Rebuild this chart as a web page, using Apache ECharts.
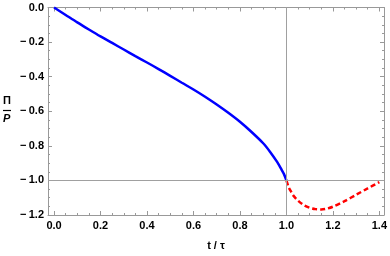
<!DOCTYPE html>
<html>
<head>
<meta charset="utf-8">
<script src="https://cdn.jsdelivr.net/npm/echarts@6/dist/echarts.min.js"></script>
<style>
html,body{margin:0;padding:0;background:#fff;}
#c{width:390px;height:256px;}
</style>
</head>
<body>
<div id="c"></div>
<script>
// ---- data ----
var blueT = [0, 0.05, 0.1, 0.15, 0.2, 0.25, 0.3, 0.35, 0.4, 0.45, 0.5, 0.55, 0.6, 0.65, 0.7, 0.75, 0.8, 0.85, 0.9, 0.93, 0.96, 0.98, 0.99, 1.0];
var blueV = [0, -0.043, -0.086, -0.127, -0.167, -0.205, -0.243, -0.281, -0.318, -0.356, -0.395, -0.435, -0.474, -0.516, -0.561, -0.609, -0.661, -0.72, -0.785, -0.835, -0.893, -0.94, -0.965, -1.0];
var redT = [1.0, 1.01, 1.02, 1.03, 1.05, 1.075, 1.1, 1.125, 1.15, 1.175, 1.2, 1.25, 1.3, 1.35, 1.4];
var redV = [-1.0, -1.04, -1.065, -1.088, -1.117, -1.143, -1.158, -1.166, -1.168, -1.163, -1.152, -1.12, -1.083, -1.046, -1.01];
var xMajor = [0, 0.2, 0.4, 0.6, 0.8, 1.0, 1.2, 1.4];
var xMinor = [0.05, 0.1, 0.15, 0.25, 0.3, 0.35, 0.45, 0.5, 0.55, 0.65, 0.7, 0.75, 0.85, 0.9, 0.95, 1.05, 1.1, 1.15, 1.25, 1.3, 1.35];
var yMajor = [-1.2, -1.0, -0.8, -0.6, -0.4, -0.2, 0];
var yMinor = [-1.15, -1.1, -1.05, -0.95, -0.9, -0.85, -0.75, -0.7, -0.65, -0.55, -0.5, -0.45, -0.35, -0.3, -0.25, -0.15, -0.1, -0.05];
var guideX = 1.0, guideY = -1.0;
var xName = 't / \u03c4';

var frameColor = '#999999';
var font = '"Liberation Sans", Arial, sans-serif';

function pair(t, v) { return t.map(function (x, i) { return [x, v[i]]; }); }

function xAx(pos, vals, len, labels, line) {
  return {
    type: 'value', position: pos, min: -0.026, max: 1.42, gridIndex: 0,
    axisLine: { show: line, onZero: false, lineStyle: { color: frameColor, width: 1 } },
    axisTick: { show: true, inside: true, length: len, customValues: vals, lineStyle: { color: frameColor, width: 1 } },
    axisLabel: labels ? { show: true, customValues: vals, margin: 5, color: '#000', fontFamily: font, fontWeight: 'bold', fontSize: 11,
      formatter: function (v) { return v.toFixed(1); } } : { show: false },
    splitLine: { show: false },
    name: labels ? xName : '', nameLocation: 'middle', nameGap: 25,
    nameTextStyle: { color: '#000', fontFamily: font, fontWeight: 'bold', fontSize: 11, verticalAlign: 'top' }
  };
}
function yAx(pos, vals, len, labels, line) {
  return {
    type: 'value', position: pos, min: -1.2, max: 0, gridIndex: 0,
    axisLine: { show: line, onZero: false, lineStyle: { color: frameColor, width: 1 } },
    axisTick: { show: true, inside: true, length: len, customValues: vals, lineStyle: { color: frameColor, width: 1 } },
    axisLabel: labels ? { show: true, customValues: vals, margin: 4, color: '#000', fontFamily: font, fontWeight: 'bold', fontSize: 11,
      formatter: function (v) { return Math.abs(v) < 1e-9 ? '0.0' : '\u2212\u2009' + Math.abs(v).toFixed(1); } } : { show: false },
    splitLine: { show: false }
  };
}

var chart = echarts.init(document.getElementById('c'), null, { renderer: 'canvas' });
chart.setOption({
  animation: false,
  backgroundColor: '#fff',
  grid: { left: 48, right: 3, top: 7.5, bottom: 39.5, containLabel: false },
  xAxis: [
    xAx('bottom', xMajor, 4, true, true),
    xAx('bottom', xMinor, 2, false, false),
    xAx('top', xMajor, 4, false, true),
    xAx('top', xMinor, 2, false, false)
  ],
  yAxis: [
    yAx('left', yMajor, 4, true, true),
    yAx('left', yMinor, 2, false, false),
    yAx('right', yMajor, 4, false, true),
    yAx('right', yMinor, 2, false, false)
  ],
  graphic: [
    { type: 'text', left: 3, top: 95, style: { text: '\u03a0', font: 'bold 11px ' + font, fill: '#000' } },
    { type: 'line', shape: { x1: 3, y1: 110.5, x2: 11, y2: 110.5 }, style: { stroke: '#000', lineWidth: 1.2 } },
    { type: 'text', left: 3, top: 113, style: { text: 'P', font: 'italic bold 11px ' + font, fill: '#000' } }
  ],
  series: [
    {
      type: 'line', data: [], xAxisIndex: 0, yAxisIndex: 0, z: 1, silent: true,
      markLine: {
        silent: true, symbol: 'none', animation: false, label: { show: false },
        lineStyle: { color: '#a0a0a0', width: 1, type: 'solid' },
        data: [{ xAxis: guideX }, { yAxis: guideY }]
      }
    },
    {
      type: 'line', data: pair(blueT, blueV), xAxisIndex: 0, yAxisIndex: 0, z: 3,
      showSymbol: false, smooth: 0.3, clip: false,
      lineStyle: { color: '#0000ff', width: 2.5 }
    },
    {
      type: 'line', data: pair(redT, redV), xAxisIndex: 0, yAxisIndex: 0, z: 3,
      showSymbol: false, smooth: 0.3, clip: false,
      lineStyle: { color: '#ff0000', width: 2.5, type: [5, 3] }
    }
  ]
});
</script>
</body>
</html>
